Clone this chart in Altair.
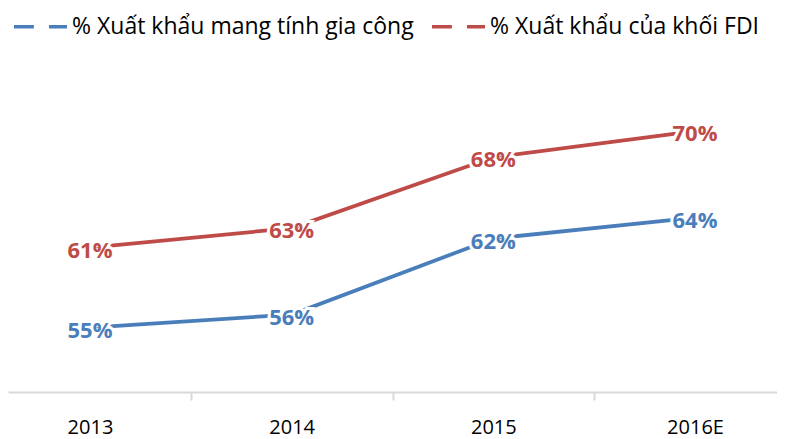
import altair as alt
import pandas as pd

categories = ["2013", "2014", "2015", "2016E"]
series_names = ["% Xuất khẩu mang tính gia công", "% Xuất khẩu của khối FDI"]
blue_values = [55.0, 56.0, 61.8, 63.4]
red_values = [61.1, 62.6, 68.0, 70.0]
blue_labels = ["55%", "56%", "62%", "64%"]
red_labels = ["61%", "63%", "68%", "70%"]
colors = ["#4A7EBB", "#BE4B48"]

rows = []
for s, vals, labs in [(series_names[0], blue_values, blue_labels),
                      (series_names[1], red_values, red_labels)]:
    for i, (c, v, l) in enumerate(zip(categories, vals, labs)):
        rows.append({"idx": i, "category": c, "series": s, "value": v, "label": l})
df = pd.DataFrame(rows)

n = len(categories)
tick_values = sorted([i for i in range(n)] + [i + 0.5 for i in range(n - 1)])
cat_js = "[" + ",".join("'" + c + "'" for c in categories) + "]"
label_expr = f"datum.value % 1 === 0 ? {cat_js}[datum.value] : ''"

x_axis = alt.Axis(
    values=tick_values,
    labelExpr=label_expr,
    title=None,
    grid=False,
    domainColor="#d9d9d9",
    domainWidth=2,
    tickColor="#d9d9d9",
    tickWidth=2,
    tickSize=8,
    tickOpacity={"condition": {"test": "datum.value % 1 !== 0", "value": 1}, "value": 0},
    labelFont="Open Sans",
    labelFontSize=20,
    labelColor="#000000",
    labelPadding=17,
    labelFlush=False,
    labelOverlap=False,
)

base = alt.Chart(df).encode(
    x=alt.X("idx:Q", scale=alt.Scale(domain=[-0.4066, n - 1 + 0.4066], nice=False, zero=False), axis=x_axis),
    y=alt.Y("value:Q", scale=alt.Scale(domain=[50.09, 79.39], nice=False, zero=False), axis=None),
)

color_enc = alt.Color(
    "series:N",
    scale=alt.Scale(domain=series_names, range=colors),
    legend=alt.Legend(
        orient="none",
        legendX=4,
        legendY=-10,
        direction="horizontal",
        title=None,
        symbolType="M-1,0H-0.25M0.32,0H1",
        symbolSize=2809,
        symbolStrokeWidth=3.5,
        labelFont="Open Sans",
        labelFontSize=23,
        labelColor="#000000",
        labelOffset=3,
        columnPadding=11,
        padding=0,
        labelLimit=600,
    ),
)

line = base.mark_line(strokeWidth=3.75).encode(color=color_enc)
halo = base.mark_text(font="Open Sans", fontWeight="bold", fontSize=22, dy=3,
                      stroke="white", strokeWidth=6, fill="white").encode(text="label:N")
labels = base.mark_text(font="Open Sans", fontWeight="bold", fontSize=22, dy=3).encode(
    text="label:N",
    color=alt.Color("series:N", scale=alt.Scale(domain=series_names, range=colors), legend=None),
)

chart = alt.layer(line, halo, labels).properties(
    width=769,
    height=384,
    autosize=alt.AutoSizeParams(type="none"),
    padding={"left": 0, "top": 0, "right": 0, "bottom": 47},
).configure_view(strokeWidth=0)

chart.save("out.html", embed_options={"renderer": "svg", "actions": False})
